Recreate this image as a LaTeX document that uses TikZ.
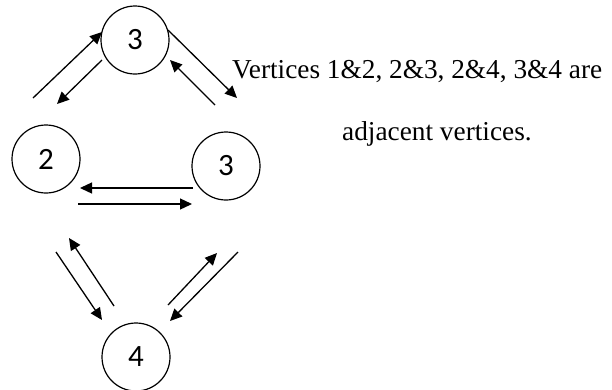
\documentclass[tikz,border=0pt]{standalone}
\usepackage{fontspec}
\setmainfont{Liberation Serif}
\newfontfamily\numfont{Carlito}
\usetikzlibrary{arrows.meta}
\begin{document}
\begin{tikzpicture}[x=1pt,y=-1pt,
  vtx/.style={circle,draw,line width=1.2pt,minimum size=68pt,inner sep=0pt,font=\numfont\fontsize{31}{31}\selectfont},
  arr/.style={line width=1.3pt,-{Triangle[length=12pt,width=11pt]}},
  lbl/.style={font=\fontsize{27.3}{30}\selectfont,inner sep=0pt}]
\useasboundingbox (0,0) rectangle (612,389);
\node[vtx] (t) at (135,40) {3};
\node[vtx] (l) at (46,159) {2};
\node[vtx] (r) at (226,166) {3};
\node[vtx] (b) at (136,357) {4};
% top-left pair
\coordinate (a1s) at (33,98);  \coordinate (a1e) at (102,32);
\coordinate (a2s) at (102,60); \coordinate (a2e) at (57,104);
% top-right pair
\coordinate (a3s) at (168,30); \coordinate (a3e) at (237,98);
\coordinate (a4s) at (215,105);\coordinate (a4e) at (170,60);
% middle pair
\coordinate (a5s) at (193,188);\coordinate (a5e) at (80,188);
\coordinate (a6s) at (78,204); \coordinate (a6e) at (192,204);
% bottom-left pair
\coordinate (a7s) at (56,252); \coordinate (a7e) at (102,320);
\coordinate (a8s) at (114,306);\coordinate (a8e) at (69,238);
% bottom-right pair
\coordinate (a9s) at (168,305);\coordinate (a9e) at (217,253);
\coordinate (a10s) at (238,252);\coordinate (a10e) at (170,321);
\foreach \i in {1,...,10} \draw[arr] (a\i s) -- (a\i e);
\node[lbl,anchor=base west] (txt1) at (232,78) {Vertices 1\&2, 2\&3, 2\&4, 3\&4 are};
\node[lbl,anchor=base west] (txt2) at (342,140) {adjacent vertices.};
\end{tikzpicture}
\end{document}
